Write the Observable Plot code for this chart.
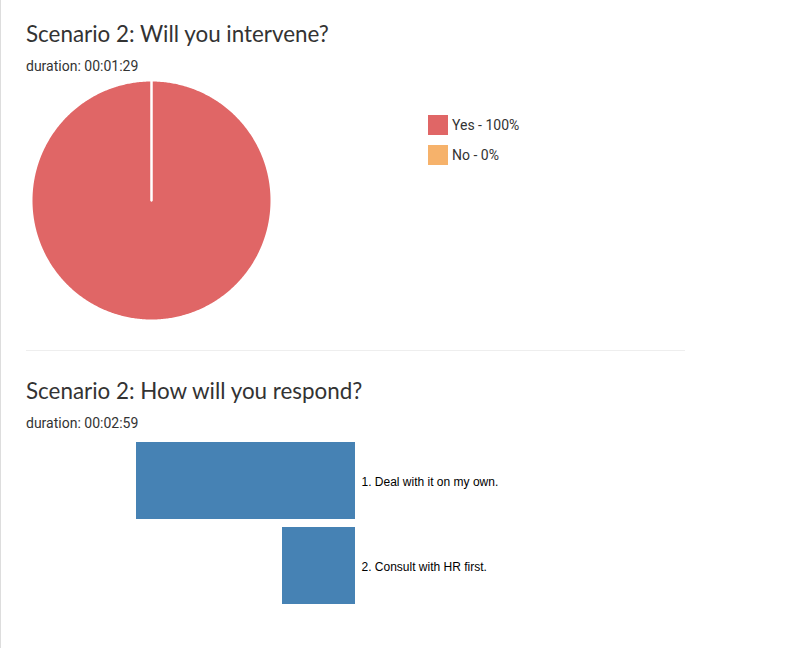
<!DOCTYPE html>
<html><head><meta charset="utf-8">
<script src="https://cdn.jsdelivr.net/npm/d3@7"></script>
<script src="https://cdn.jsdelivr.net/npm/@observablehq/plot@0.6"></script>
<style>
html,body{margin:0;padding:0;background:#fff;}
body{width:802px;height:648px;position:relative;overflow:hidden;}
.abs{position:absolute;white-space:nowrap;}
.title{font-family:Lato;font-size:22.4px;line-height:22.4px;color:#333;}
.dur{font-family:Roboto;font-size:14px;line-height:14px;color:#333;}
.leg{font-family:Roboto;font-size:14px;line-height:14px;color:#333;}
</style></head><body>
<div class="abs" style="left:0;top:0;width:1px;height:648px;background:#ddd"></div>
<div class="abs title" style="left:26px;top:22.8px">Scenario 2: Will you intervene?</div>
<div class="abs dur" style="left:26px;top:58.9px">duration: 00:01:29</div>
<div id="pie" class="abs" style="left:31px;top:80px"></div>
<div id="legend"></div>
<div class="abs" style="left:26px;top:350px;width:659px;height:1px;background:#eee"></div>
<div class="abs title" style="left:26px;top:380.1px">Scenario 2: How will you respond?</div>
<div class="abs dur" style="left:26px;top:415.9px">duration: 00:02:59</div>
<div id="bars" class="abs" style="left:0;top:425px"></div>
<script>
const pieLabels = ["Yes", "No"];
const pieValues = [100, 0];
const pieColors = ["#e06666", "#f6b26b"];
const barLabels = ["1. Deal with it on my own.", "2. Consult with HR first."];
const barValues = [3, 1];

// pie slices as polygons in a unit circle (angle 0 at top, clockwise)
const arcs = d3.pie().sort(null)(pieValues);
const piePts = [];
arcs.forEach((a, i) => {
  const n = Math.max(2, Math.ceil((a.endAngle - a.startAngle) / 0.01));
  piePts.push({k: pieLabels[i], x: 0, y: 0});
  for (let j = 0; j <= n; j++) {
    const t = a.startAngle + (a.endAngle - a.startAngle) * j / n;
    piePts.push({k: pieLabels[i], x: Math.sin(t), y: Math.cos(t)});
  }
  piePts.push({k: pieLabels[i], x: 0, y: 0});
});

const pie = Plot.plot({
  width: 240, height: 240,
  marginTop: 0, marginRight: 0, marginBottom: 0, marginLeft: 0,
  x: {domain: [-1, 1], axis: null},
  y: {domain: [-1, 1], axis: null},
  color: {domain: pieLabels, range: pieColors},
  marks: [
    Plot.line(piePts, {x: "x", y: "y", z: "k", fill: "k", stroke: "white", strokeWidth: 2, curve: "linear"})
  ]
});
document.getElementById("pie").appendChild(pie);

// legend
const cs = pie.scale("color");
const leg = document.getElementById("legend");
const total = d3.sum(pieValues);
pieLabels.forEach((l, i) => {
  const sw = document.createElement("div");
  sw.className = "abs";
  sw.style.cssText = `left:428px;top:${115 + i * 30}px;width:20px;height:20px;background:${cs.apply(l)}`;
  leg.appendChild(sw);
  const tx = document.createElement("div");
  tx.className = "abs leg";
  tx.style.cssText = `left:452px;top:${117.5 + i * 30}px`;
  tx.textContent = `${l} - ${Math.round(pieValues[i] / total * 100)}%`;
  leg.appendChild(tx);
});

const barData = barLabels.map((l, i) => ({label: l, value: barValues[i]}));
const bars = Plot.plot({
  width: 560, height: 187,
  marginLeft: 136, marginRight: 205, marginTop: 8.5, marginBottom: 0,
  x: {domain: [0, d3.max(barValues)], reverse: true, axis: null},
  y: {domain: barLabels, axis: null, padding: 0.1},
  marks: [
    Plot.barX(barData, {x: "value", y: "label", fill: "steelblue"}),
    Plot.text(barData, {x: 0, y: "label", text: "label", textAnchor: "start", dx: 6, dy: 1, fontSize: 12, fontFamily: "Liberation Sans", fill: "black"})
  ]
});
document.getElementById("bars").appendChild(bars);
</script>
</body></html>
